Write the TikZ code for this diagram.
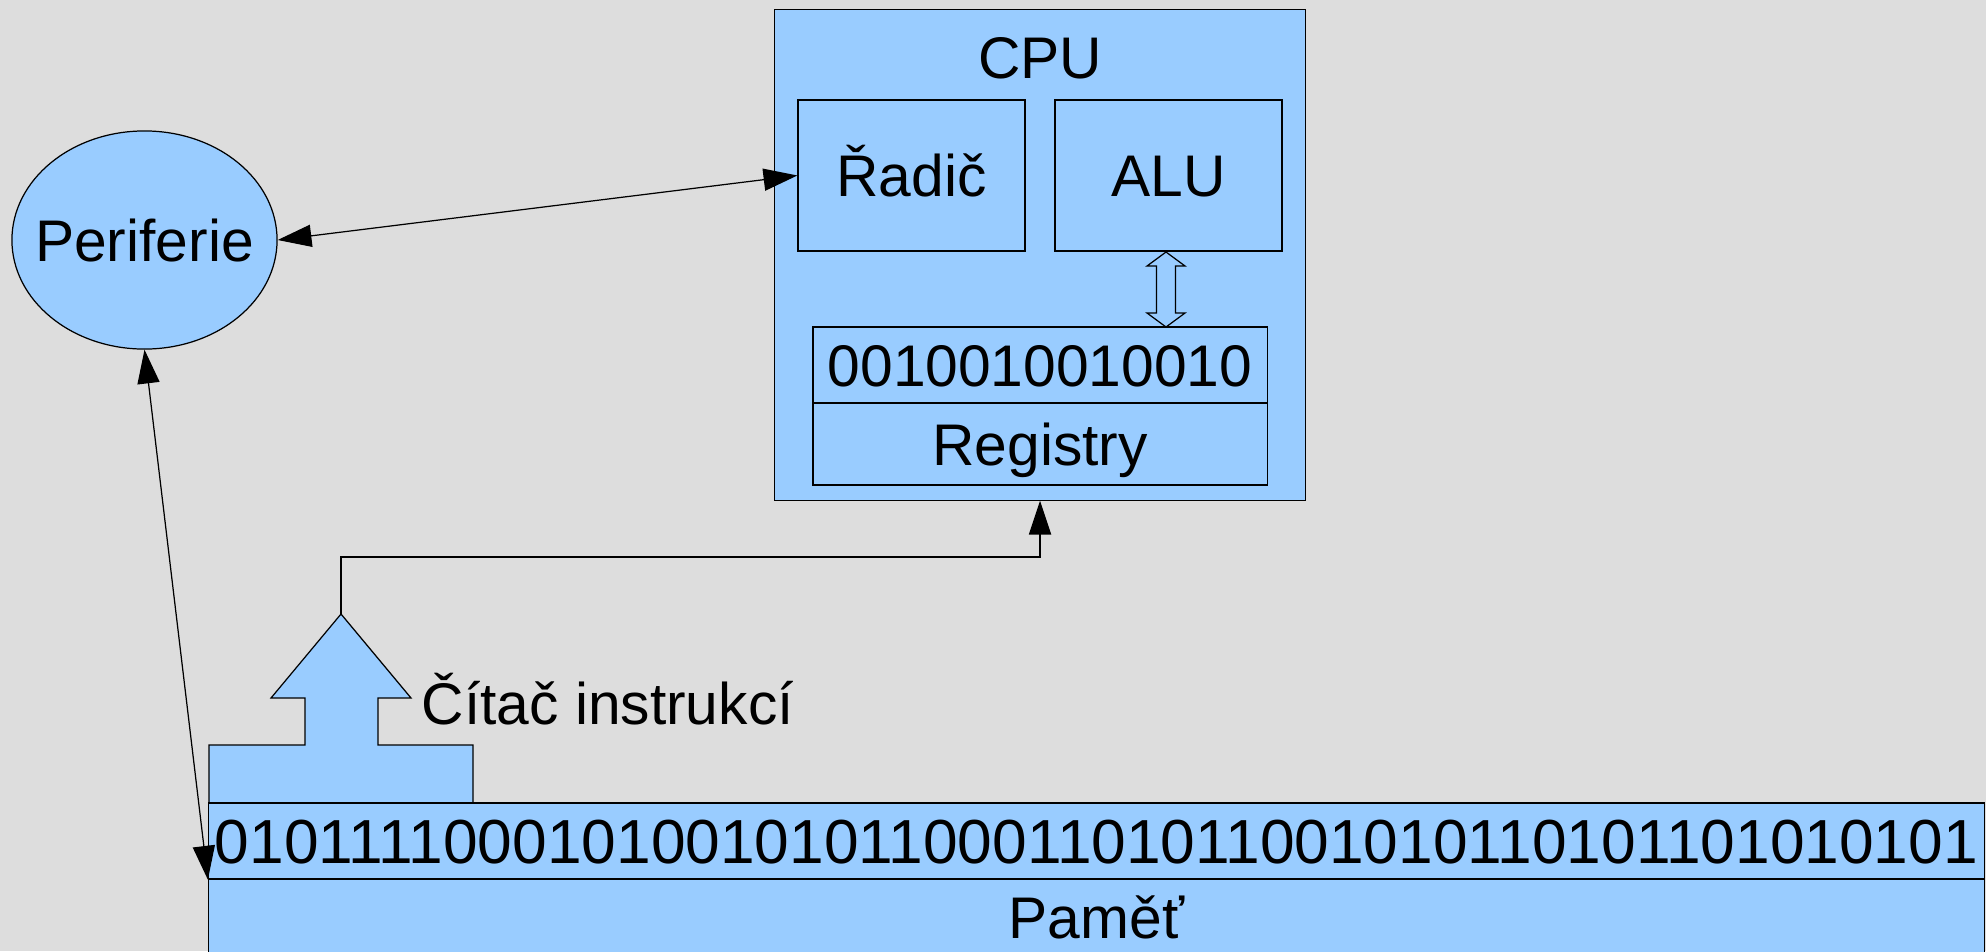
\documentclass[tikz,border=0pt]{standalone}
\usepackage{fontspec}
\setmainfont{Liberation Sans}
\usetikzlibrary{arrows.meta,shapes.geometric}
\definecolor{pozadi}{HTML}{DDDDDD}
\definecolor{modra}{HTML}{99CCFF}

\begin{document}
\begin{tikzpicture}[x=0.01cm,y=-0.01cm,
		font=\fontsize{16.7}{20}\selectfont,
		inner sep=0pt,
		>={Triangle[length=9.6pt,width=6.3pt]},
		blok/.style={draw,fill=modra,line width=0.35pt,text height=0.42cm,text depth=0pt},
		popis/.style={text height=0.42cm,text depth=0pt},
		spoj/.style={line width=0.35pt}]
	\fill[pozadi] (0,0) rectangle (1986,951);
	\clip (0,0) rectangle (1986,951);
	% CPU
	\node[blok,minimum width=5.30cm,minimum height=4.90cm] (cpu) at (1040,255) {};
	\node[popis] (cpunazev) at (1040,57) {CPU};
	\node[blok,minimum width=2.27cm,minimum height=1.51cm] (radic) at (911.5,175.5) {Řadič};
	\node[blok,minimum width=2.27cm,minimum height=1.51cm] (alu) at (1168.5,175.5) {ALU};
	\node[blok,minimum width=4.54cm,minimum height=0.76cm] (reg) at (1040,365) {0010010010010};
	\node[blok,minimum width=4.54cm,minimum height=0.82cm] (regpopis) at (1040,444) {Registry};
	% ALU <-> registry
	\draw[blok] (1166,252) -- (1185,266) -- (1175.5,266) -- (1175.5,313) -- (1185,313)
		-- (1166,327) -- (1147,313) -- (1156.5,313) -- (1156.5,266) -- (1147,266) -- cycle;
	% periferie
	\node[blok,ellipse,minimum width=2.65cm,minimum height=2.18cm] (perif) at (144.5,240) {};
	\node[popis] (perifpopis) at (perif.center) {Periferie};
	% citac instrukci
	\draw[spoj,fill=modra] (209,803) -- (209,745) -- (305,745) -- (305,698) -- (271,698)
		-- (341,614) -- (411,698) -- (378,698) -- (378,745) -- (473,745) -- (473,803);
	\coordinate (citac) at (341,614);
	\coordinate (ohyb) at (341,557);
	\node[popis,anchor=west] (citacpopis) at (421,703) {Čítač instrukcí};
	% pamet
	\node[blok,minimum width=17.75cm,minimum height=0.76cm,font=\fontsize{17.7}{20}\selectfont,
		text height=0.445cm] (pamet) at (1096.5,841)
		{0101111000101001010110001101011001010110101101010101};
	\node[blok,minimum width=17.75cm,minimum height=0.76cm] (pametpopis) at (1096.5,917) {Paměť};
	% spoje
	\draw[spoj,<->] (perif.east) -- (radic.west);
	\draw[spoj,<->] (perif.south) -- (pamet.south west);
	\draw[spoj,->] (citac) -- (ohyb) -| (cpu.south);
\end{tikzpicture}
\end{document}
